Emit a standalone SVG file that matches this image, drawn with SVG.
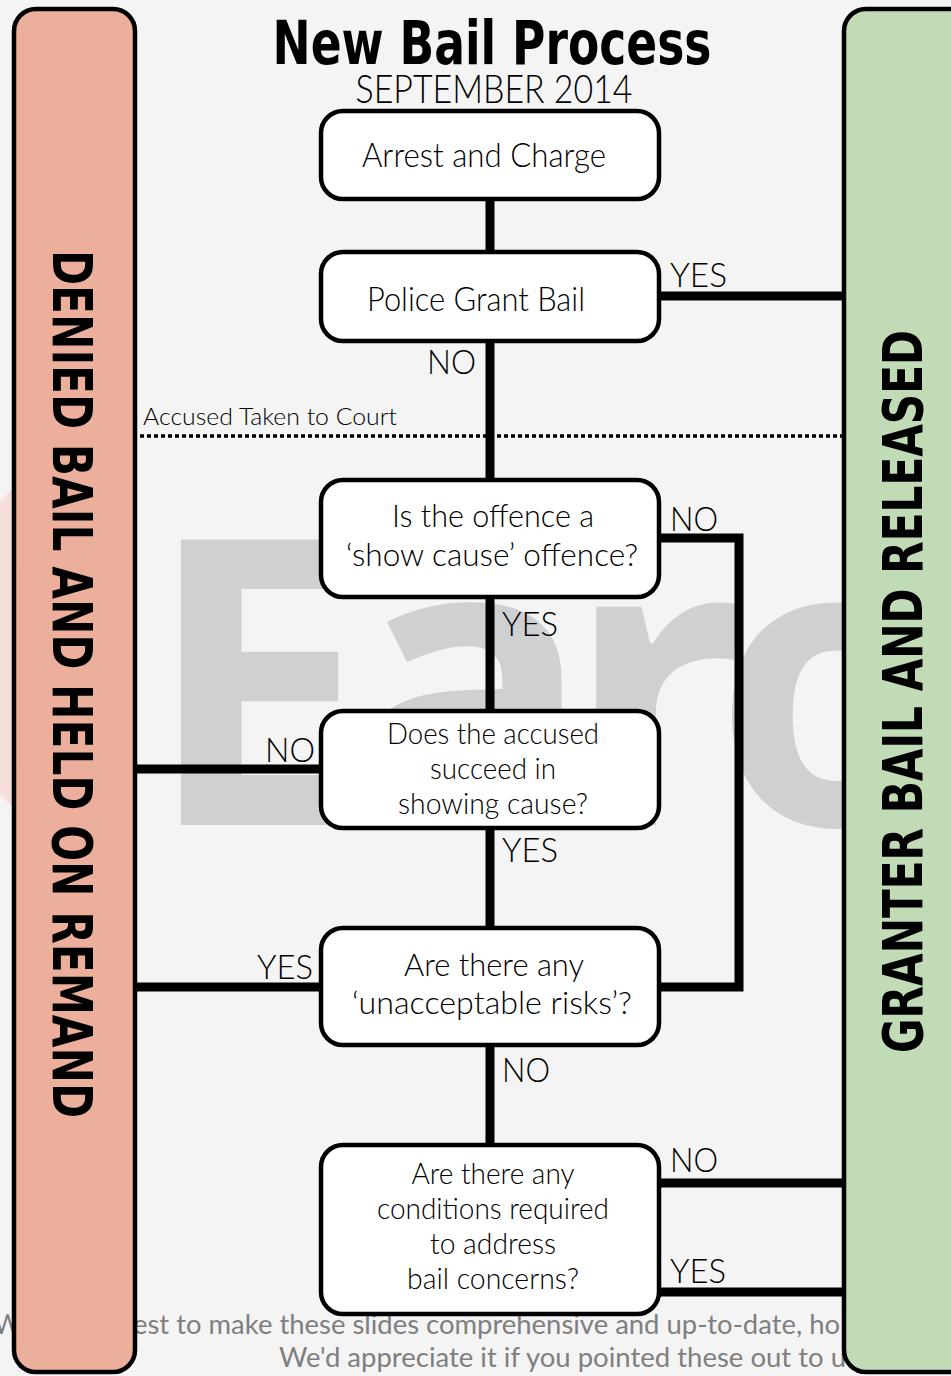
<svg xmlns="http://www.w3.org/2000/svg" width="951" height="1376" viewBox="0 0 951 1376">
<style>
.box{fill:#ffffff;stroke:#000;stroke-width:4.5}
.conn{stroke:#000;stroke-width:9;fill:none}
.t{font-family:Lato,"Open Sans","Liberation Sans",sans-serif;font-weight:300;fill:#000}
.lbl{font-family:Lato,"Open Sans","Liberation Sans",sans-serif;font-weight:300;font-size:33px;fill:#000}
.side{font-family:"Liberation Sans Narrow","DejaVu Sans Condensed","Liberation Sans",sans-serif;font-weight:bold;font-size:56px;fill:#000}
.foot{font-family:Lato,"Open Sans","Liberation Sans",sans-serif;font-weight:normal;font-size:26px;fill:#7f7f7f}
</style>
<defs>
<clipPath id="leftEdge"><rect x="0" y="0" width="16" height="1376"/></clipPath>
</defs>
<rect x="0" y="0" width="951" height="1376" fill="#f4f4f4"/>
<g id="watermark">
<circle cx="150" cy="648" r="210" fill="#f5e0dc" clip-path="url(#leftEdge)"/>
<text x="145 350 565 714" y="825" font-family="'Open Sans','DejaVu Sans',sans-serif" font-weight="bold" font-size="400" fill="#cfd0d2">Earo</text>
</g>
<g id="footer">
<text class="foot" x="-6" y="1334">We</text>
<text class="foot" x="133" y="1334" textLength="707" lengthAdjust="spacingAndGlyphs">est to make these slides comprehensive and up-to-date, ho</text>
<text class="foot" x="279" y="1367" textLength="567" lengthAdjust="spacingAndGlyphs">We'd appreciate it if you pointed these out to u</text>
</g>
<g id="denied">
<rect x="14" y="9" width="121" height="1363" rx="22" fill="#ebaf9b" stroke="#000" stroke-width="4.5"/>
<text class="side" transform="rotate(90)" x="250" y="-53" textLength="868" lengthAdjust="spacingAndGlyphs">DENIED BAIL AND HELD ON REMAND</text>
</g>
<g id="granted">
<rect x="844" y="9" width="140" height="1363" rx="22" fill="#c0dbb6" stroke="#000" stroke-width="4.5"/>
<text class="side" transform="rotate(-90)" x="-1053" y="922" textLength="723" lengthAdjust="spacingAndGlyphs">GRANTER BAIL AND RELEASED</text>
</g>
<g id="title">
<text x="492" y="64" text-anchor="middle" font-family="'Liberation Sans Narrow','DejaVu Sans Condensed','Liberation Sans',sans-serif" font-weight="bold" font-size="61" textLength="439" lengthAdjust="spacingAndGlyphs">New Bail Process</text>
<text class="t" x="494" y="103" text-anchor="middle" font-size="40" textLength="277" lengthAdjust="spacingAndGlyphs">SEPTEMBER 2014</text>
</g>
<g id="connectors">
<line class="conn" x1="490" y1="199" x2="490" y2="252"/>
<line class="conn" x1="490" y1="341" x2="490" y2="480"/>
<line class="conn" x1="490" y1="597" x2="490" y2="711"/>
<line class="conn" x1="490" y1="828" x2="490" y2="928"/>
<line class="conn" x1="490" y1="1045" x2="490" y2="1145"/>
<line class="conn" x1="659" y1="296" x2="844" y2="296"/>
<polyline class="conn" points="659,538 739,538 739,987 659,987"/>
<line class="conn" x1="135" y1="769" x2="321" y2="769"/>
<line class="conn" x1="135" y1="987" x2="321" y2="987"/>
<line class="conn" x1="659" y1="1183" x2="844" y2="1183"/>
<line class="conn" x1="659" y1="1292" x2="844" y2="1292"/>
<line x1="133" y1="436" x2="847" y2="436" stroke="#000" stroke-width="3.5" stroke-dasharray="4 3"/>
</g>
<g id="n-arrest">
<rect class="box" x="321" y="111" width="338" height="88" rx="22"/>
<text class="t" x="484" y="167" text-anchor="middle" font-size="33" textLength="244" lengthAdjust="spacingAndGlyphs">Arrest and Charge</text>
</g>
<g id="n-police">
<rect class="box" x="321" y="252" width="338" height="89" rx="22"/>
<text class="t" x="476" y="311" text-anchor="middle" font-size="33" textLength="218" lengthAdjust="spacingAndGlyphs">Police Grant Bail</text>
</g>
<g id="n-showcause">
<rect class="box" x="321" y="480" width="338" height="117" rx="22"/>
<text class="t" x="493" y="527" text-anchor="middle" font-size="32" textLength="202" lengthAdjust="spacingAndGlyphs">Is the offence a</text>
<text class="t" x="492" y="566" text-anchor="middle" font-size="32" textLength="292" lengthAdjust="spacingAndGlyphs">‘show cause’ offence?</text>
</g>
<g id="n-succeed">
<rect class="box" x="321" y="711" width="338" height="117" rx="22"/>
<text class="t" x="493" y="744" text-anchor="middle" font-size="29" textLength="212" lengthAdjust="spacingAndGlyphs">Does the accused</text>
<text class="t" x="493" y="779" text-anchor="middle" font-size="29" textLength="126" lengthAdjust="spacingAndGlyphs">succeed in</text>
<text class="t" x="493" y="814" text-anchor="middle" font-size="29" textLength="190" lengthAdjust="spacingAndGlyphs">showing cause?</text>
</g>
<g id="n-risks">
<rect class="box" x="321" y="928" width="338" height="117" rx="22"/>
<text class="t" x="494" y="976" text-anchor="middle" font-size="32" textLength="180" lengthAdjust="spacingAndGlyphs">Are there any</text>
<text class="t" x="492" y="1014" text-anchor="middle" font-size="32" textLength="280" lengthAdjust="spacingAndGlyphs">‘unacceptable risks’?</text>
</g>
<g id="n-conditions">
<rect class="box" x="321" y="1145" width="338" height="169" rx="22"/>
<text class="t" x="493" y="1184" text-anchor="middle" font-size="29" textLength="163" lengthAdjust="spacingAndGlyphs">Are there any</text>
<text class="t" x="493" y="1219" text-anchor="middle" font-size="29" textLength="232" lengthAdjust="spacingAndGlyphs">conditions required</text>
<text class="t" x="493" y="1254" text-anchor="middle" font-size="29" textLength="126" lengthAdjust="spacingAndGlyphs">to address</text>
<text class="t" x="493" y="1289" text-anchor="middle" font-size="29" textLength="172" lengthAdjust="spacingAndGlyphs">bail concerns?</text>
</g>
<g id="labels">
<text class="lbl" x="670" y="287" textLength="57" lengthAdjust="spacingAndGlyphs">YES</text>
<text class="lbl" x="427" y="374" textLength="49" lengthAdjust="spacingAndGlyphs">NO</text>
<text class="t" x="143" y="425" font-size="24" textLength="254" lengthAdjust="spacingAndGlyphs">Accused Taken to Court</text>
<text class="lbl" x="670" y="531" textLength="48" lengthAdjust="spacingAndGlyphs">NO</text>
<text class="lbl" x="502" y="636" textLength="56" lengthAdjust="spacingAndGlyphs">YES</text>
<text class="lbl" x="265" y="762" textLength="50" lengthAdjust="spacingAndGlyphs">NO</text>
<text class="lbl" x="502" y="862" textLength="56" lengthAdjust="spacingAndGlyphs">YES</text>
<text class="lbl" x="257" y="979" textLength="56" lengthAdjust="spacingAndGlyphs">YES</text>
<text class="lbl" x="502" y="1082" textLength="48" lengthAdjust="spacingAndGlyphs">NO</text>
<text class="lbl" x="670" y="1172" textLength="48" lengthAdjust="spacingAndGlyphs">NO</text>
<text class="lbl" x="670" y="1283" textLength="56" lengthAdjust="spacingAndGlyphs">YES</text>
</g>
</svg>
